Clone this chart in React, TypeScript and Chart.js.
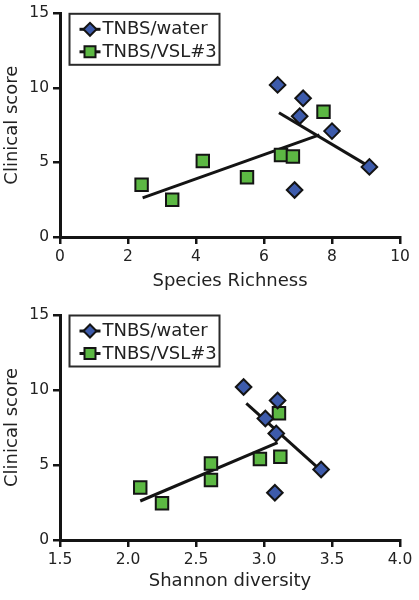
import React, { useEffect, useRef } from "react";
import { Chart, registerables } from "chart.js";

Chart.register(...registerables);

// ---------- data ----------
const seriesLabels = ["TNBS/water", "TNBS/VSL#3"];

// Top panel: species richness
const richnessWater = [6.4, 7.15, 7.05, 8.0, 9.1, 6.9];
const richnessWaterScore = [10.2, 9.3, 8.1, 7.1, 4.7, 3.15];
const richnessVsl = [2.4, 3.3, 4.2, 5.5, 6.5, 6.85, 7.75];
const richnessVslScore = [3.5, 2.5, 5.1, 4.0, 5.5, 5.4, 8.4];
const richnessWaterFitX = [6.44, 9.15];
const richnessWaterFitY = [8.33, 4.65];
const richnessVslFitX = [2.43, 7.63];
const richnessVslFitY = [2.62, 6.85];

// Bottom panel: Shannon diversity
const shannonWater = [2.85, 3.1, 3.01, 3.09, 3.42, 3.08];
const shannonWaterScore = [10.2, 9.3, 8.1, 7.1, 4.7, 3.15];
const shannonVsl = [2.09, 2.25, 2.61, 2.61, 2.97, 3.12, 3.11];
const shannonVslScore = [3.5, 2.45, 5.1, 4.0, 5.4, 5.55, 8.45];
const shannonWaterFitX = [2.87, 3.42];
const shannonWaterFitY = [9.11, 4.62];
const shannonVslFitX = [2.09, 3.1];
const shannonVslFitY = [2.6, 6.49];

const yTicks = [0, 5, 10, 15];
const richnessTicks = [0, 2, 4, 6, 8, 10];
const shannonTicks = [1.5, 2.0, 2.5, 3.0, 3.5, 4.0];

// ---------- styles ----------
const FONT = "'DejaVu Sans', Verdana, sans-serif";
const BLUE = "#3d5bab";
const GREEN = "#5cb843";
const EDGE = "#141414";
const INK = "#222222";

const pts = (xs: number[], ys: number[]) => xs.map((x, i) => ({ x, y: ys[i] }));

function drawDiamond(ctx: CanvasRenderingContext2D, x: number, y: number, r: number) {
  ctx.beginPath();
  ctx.moveTo(x - r, y);
  ctx.lineTo(x, y - r);
  ctx.lineTo(x + r, y);
  ctx.lineTo(x, y + r);
  ctx.closePath();
  ctx.fillStyle = BLUE;
  ctx.fill();
  ctx.lineWidth = 2;
  ctx.strokeStyle = EDGE;
  ctx.stroke();
}

function drawSquare(ctx: CanvasRenderingContext2D, x: number, y: number, h: number) {
  ctx.beginPath();
  ctx.rect(x - h, y - h, 2 * h, 2 * h);
  ctx.fillStyle = GREEN;
  ctx.fill();
  ctx.lineWidth = 2;
  ctx.strokeStyle = EDGE;
  ctx.stroke();
}

const boxLegend = {
  id: "boxLegend",
  afterDatasetsDraw(chart: any) {
    const { ctx, chartArea } = chart;
    const bx = chartArea.left + 9.5;
    const by = chartArea.top + 0.5;
    const bw = 150;
    const bh = 51;
    ctx.save();
    ctx.fillStyle = "#fff";
    ctx.fillRect(bx, by, bw, bh);
    ctx.lineWidth = 2;
    ctx.strokeStyle = "#2a2a2a";
    ctx.strokeRect(bx, by, bw, bh);
    const labels = [chart.data.datasets[0].label, chart.data.datasets[1].label];
    labels.forEach((lab: string, i: number) => {
      const cy = by + 15.5 + i * 22.5;
      ctx.beginPath();
      ctx.moveTo(bx + 10, cy);
      ctx.lineTo(bx + 31, cy);
      ctx.lineWidth = 3;
      ctx.strokeStyle = EDGE;
      ctx.stroke();
      if (i === 0) drawDiamond(ctx, bx + 20.5, cy, 6.5);
      else drawSquare(ctx, bx + 20.5, cy, 5.5);
      ctx.fillStyle = INK;
      ctx.font = `18px ${FONT}`;
      ctx.textBaseline = "middle";
      ctx.textAlign = "left";
      ctx.fillText(lab, bx + 33, cy + 0.5);
    });
    ctx.restore();
  },
};

interface PanelProps {
  waterX: number[];
  waterY: number[];
  vslX: number[];
  vslY: number[];
  waterFitX: number[];
  waterFitY: number[];
  vslFitX: number[];
  vslFitY: number[];
  xTicks: number[];
  xTitle: string;
  decimals: number;
  topPad: number;
  xAxisHeight: number;
}

function Panel(p: PanelProps) {
  const ref = useRef<HTMLCanvasElement>(null);
  useEffect(() => {
    const tickFont = { family: FONT, size: 15.5 };
    const titleFont = { family: FONT, size: 18 };
    const chart = new Chart(ref.current!, {
      type: "scatter",
      data: {
        datasets: [
          {
            label: seriesLabels[0],
            data: pts(p.waterX, p.waterY),
            pointStyle: "rectRot",
            pointRadius: 7.8,
            pointHoverRadius: 7.8,
            backgroundColor: BLUE,
            borderColor: EDGE,
            borderWidth: 2,
            order: 1,
          },
          {
            label: seriesLabels[1],
            data: pts(p.vslX, p.vslY),
            pointStyle: "rect",
            pointRadius: 8.8,
            pointHoverRadius: 8.8,
            backgroundColor: GREEN,
            borderColor: EDGE,
            borderWidth: 2,
            order: 1,
          },
          {
            label: "water fit",
            data: pts(p.waterFitX, p.waterFitY),
            showLine: true,
            pointRadius: 0,
            borderColor: EDGE,
            borderWidth: 3,
            order: 2,
          },
          {
            label: "vsl fit",
            data: pts(p.vslFitX, p.vslFitY),
            showLine: true,
            pointRadius: 0,
            borderColor: EDGE,
            borderWidth: 3,
            order: 2,
          },
        ],
      } as any,
      options: {
        animation: false,
        responsive: true,
        maintainAspectRatio: false,
        events: [],
        layout: { padding: { left: 0, right: 19, top: p.topPad, bottom: 0 } },
        plugins: { legend: { display: false }, tooltip: { enabled: false } },
        scales: {
          x: {
            type: "linear",
            min: p.xTicks[0],
            max: p.xTicks[p.xTicks.length - 1],
            afterBuildTicks: (s: any) => {
              s.ticks = p.xTicks.map((v) => ({ value: v }));
            },
            ticks: {
              font: tickFont,
              color: INK,
              padding: 4,
              maxRotation: 0,
              autoSkip: false,
              callback: (v: any) => Number(v).toFixed(p.decimals),
            },
            grid: {
              display: true,
              drawOnChartArea: false,
              drawTicks: true,
              tickLength: 7,
              color: EDGE,
              lineWidth: 2.5,
            },
            border: { display: true, color: EDGE, width: 3 },
            title: {
              display: true,
              text: p.xTitle,
              font: titleFont,
              color: INK,
              padding: { top: 0, bottom: 8 },
            },
            afterFit: (s: any) => {
              s.height = p.xAxisHeight;
            },
          },
          y: {
            type: "linear",
            min: 0,
            max: 15,
            afterBuildTicks: (s: any) => {
              s.ticks = yTicks.map((v) => ({ value: v }));
            },
            ticks: { font: tickFont, color: INK, padding: 4 },
            grid: {
              display: true,
              drawOnChartArea: false,
              drawTicks: true,
              tickLength: 7,
              color: EDGE,
              lineWidth: 2.5,
            },
            border: { display: true, color: EDGE, width: 3 },
            title: {
              display: true,
              text: "Clinical score",
              font: titleFont,
              color: INK,
              padding: { top: 2, bottom: 0 },
            },
            afterFit: (s: any) => {
              s.width = 60;
            },
          },
        },
      } as any,
      plugins: [boxLegend],
    });
    return () => chart.destroy();
  }, []);
  return (
    <div style={{ position: "relative", width: 419, height: 300 }}>
      <canvas ref={ref} />
    </div>
  );
}

export default function App() {
  return (
    <div style={{ position: "absolute", left: 0, top: 0, width: 419, height: 600, background: "#fff" }}>
      <Panel
        waterX={richnessWater}
        waterY={richnessWaterScore}
        vslX={richnessVsl}
        vslY={richnessVslScore}
        waterFitX={richnessWaterFitX}
        waterFitY={richnessWaterFitY}
        vslFitX={richnessVslFitX}
        vslFitY={richnessVslFitY}
        xTicks={richnessTicks}
        xTitle="Species Richness"
        decimals={0}
        topPad={10}
        xAxisHeight={63}
      />
      <Panel
        waterX={shannonWater}
        waterY={shannonWaterScore}
        vslX={shannonVsl}
        vslY={shannonVslScore}
        waterFitX={shannonWaterFitX}
        waterFitY={shannonWaterFitY}
        vslFitX={shannonVslFitX}
        vslFitY={shannonVslFitY}
        xTicks={shannonTicks}
        xTitle="Shannon diversity"
        decimals={1}
        topPad={15}
        xAxisHeight={60}
      />
    </div>
  );
}
